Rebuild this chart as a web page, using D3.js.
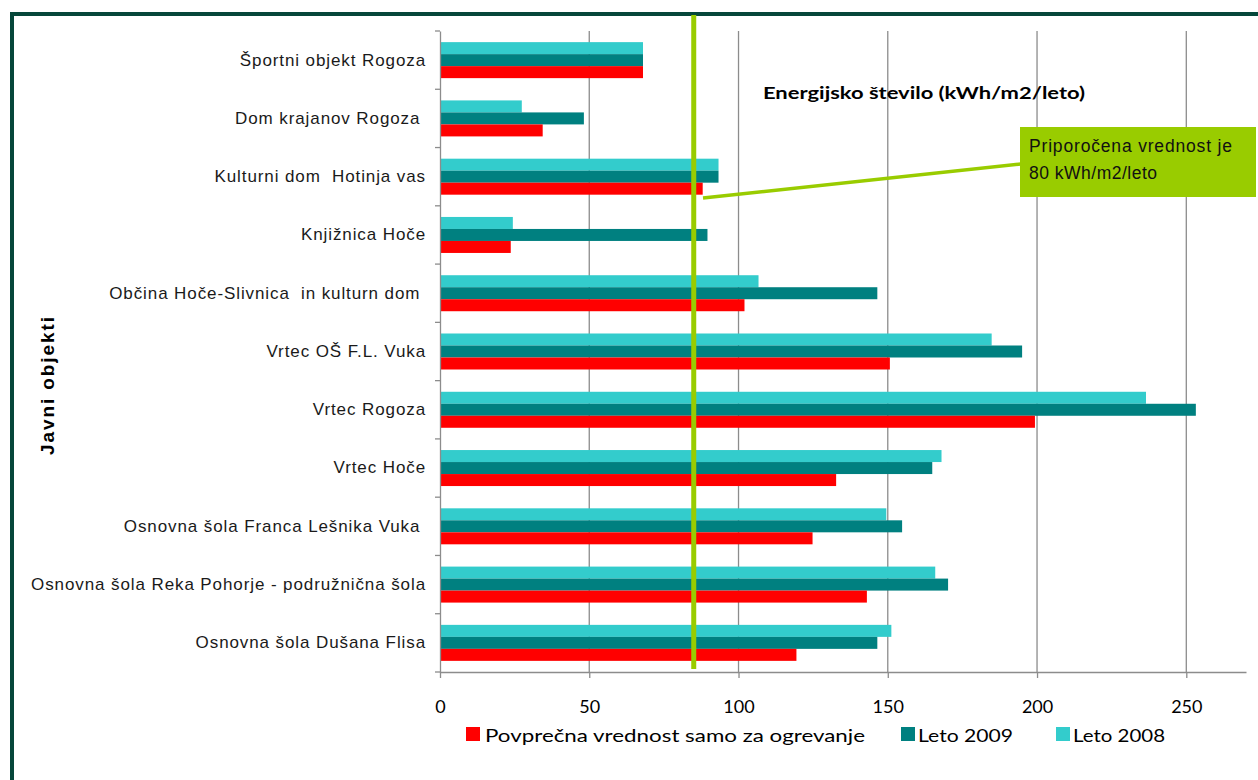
<!DOCTYPE html>
<html><head><meta charset="utf-8">
<script src="https://cdn.jsdelivr.net/npm/d3@7"></script>
<style>body{margin:0;background:#fff}svg{display:block}</style>
</head><body>
<svg id="c" width="1258" height="780"></svg>
<script>
const categories = ["Športni objekt Rogoza","Dom krajanov Rogoza ","Kulturni dom  Hotinja vas","Knjižnica Hoče","Občina Hoče-Slivnica  in kulturn dom ","Vrtec OŠ F.L. Vuka","Vrtec Rogoza","Vrtec Hoče","Osnovna šola Franca Lešnika Vuka ","Osnovna šola Reka Pohorje - podružnična šola","Osnovna šola Dušana Flisa"];
const leto2008 = [68, 27.4, 93.3, 24.4, 106.7, 184.8, 236.5, 168, 149.5, 165.9, 151.2];
const leto2009 = [68, 48.2, 93.3, 89.6, 146.5, 195, 253.2, 164.9, 154.8, 170.2, 146.5];
const povprecna = [68, 34.4, 88, 23.7, 102, 150.7, 199.3, 132.7, 124.8, 143, 119.4];
const xTicks = [0, 50, 100, 150, 200, 250];
const seriesNames = ["Povprečna vrednost samo za ogrevanje", "Leto 2009", "Leto 2008"];
const recommended = 85;
const xMax = 270;

const colors = {p:"#ff0000", y09:"#008080", y08:"#33cccc"};
const svg = d3.select("#c");

// frame
svg.append("rect").attr("x",12).attr("y",14).attr("width",1258).attr("height",800)
  .attr("fill","none").attr("stroke","#06473a").attr("stroke-width",4);

const L=440, R=1246, T=31, B=672;
const x = d3.scaleLinear().domain([0,xMax]).range([L,R]);
const y = d3.scaleBand().domain(categories).range([T,B]);
const series = [
  {key:"y08", vals:leto2008, off:-18, col:colors.y08},
  {key:"y09", vals:leto2009, off:-6, col:colors.y09},
  {key:"p", vals:povprecna, off:6, col:colors.p}
];

// gridlines
svg.append("g").selectAll("line").data(xTicks.filter(d=>d>0)).join("line")
  .attr("x1",d=>x(d)).attr("x2",d=>x(d)).attr("y1",T).attr("y2",B)
  .attr("stroke","#8c8c8c").attr("stroke-width",1.3);

// bars
series.forEach(s=>{
  svg.append("g").selectAll("rect").data(categories).join("rect")
    .attr("x",x(0)).attr("y",(d)=>y(d)+y.bandwidth()/2+s.off)
    .attr("width",(d,i)=>x(s.vals[i])-x(0)).attr("height",12)
    .attr("fill",s.col);
});

// x axis
const xa = svg.append("g").attr("transform",`translate(0,${B})`)
  .call(d3.axisBottom(x).tickValues(xTicks).tickSize(6).tickPadding(22).tickSizeOuter(0));
xa.select(".domain").attr("stroke","#8c8c8c").attr("stroke-width",1.3);
xa.selectAll(".tick line").attr("stroke","#8c8c8c").attr("stroke-width",1.3);
xa.selectAll("text").attr("font-family","Lato, 'Open Sans', sans-serif").attr("font-size",18).attr("fill","#000");

// y axis
const ya = svg.append("g").attr("transform",`translate(${L},0)`)
  .call(d3.axisLeft(y).tickSize(0).tickPadding(14));
ya.select(".domain").attr("stroke","#8c8c8c").attr("stroke-width",1.3);
ya.selectAll("text").attr("font-family","'Liberation Sans', Arial, sans-serif").attr("font-size",17)
  .attr("letter-spacing",0.9).attr("fill","#1a1a1a").style("white-space","pre");
// category boundary ticks
svg.append("g").selectAll("line").data(d3.range(categories.length+1)).join("line")
  .attr("x1",L-5).attr("x2",L).attr("y1",i=>T+i*y.step()).attr("y2",i=>T+i*y.step())
  .attr("stroke","#8c8c8c").attr("stroke-width",1.3);

// recommended line
svg.append("line").attr("x1",x(recommended)).attr("x2",x(recommended)).attr("y1",15).attr("y2",669)
  .attr("stroke","#99cc00").attr("stroke-width",5);
// connector
svg.append("line").attr("x1",703).attr("y1",198).attr("x2",1021).attr("y2",164)
  .attr("stroke","#99cc00").attr("stroke-width",3.5);
// callout box
svg.append("rect").attr("x",1020).attr("y",127).attr("width",236).attr("height",70).attr("fill","#99cc00");
svg.append("text").attr("x",1029).attr("y",152).text("Priporočena vrednost je")
  .attr("font-family","'Liberation Sans', Arial, sans-serif").attr("font-size",17.5).attr("fill","#111")
  .attr("textLength",203).attr("lengthAdjust","spacing");
svg.append("text").attr("x",1029).attr("y",179).text("80 kWh/m2/leto")
  .attr("font-family","'Liberation Sans', Arial, sans-serif").attr("font-size",17.5).attr("fill","#111")
  .attr("textLength",128).attr("lengthAdjust","spacing");

// title
svg.append("text").attr("x",763).attr("y",99).text("Energijsko število (kWh/m2/leto)")
  .attr("font-family","Lato, 'Open Sans', sans-serif").attr("font-weight","bold").attr("font-size",17)
  .attr("textLength",322).attr("lengthAdjust","spacingAndGlyphs").attr("fill","#000");

// y axis title
svg.append("text").attr("transform","translate(54,386) rotate(-90)").attr("text-anchor","middle")
  .text("Javni objekti").attr("font-family","'Liberation Sans', Arial, sans-serif")
  .attr("font-weight","bold").attr("font-size",19).attr("fill","#000")
  .attr("textLength",138).attr("lengthAdjust","spacing");

// legend
const legend = [
  {name:seriesNames[0], col:colors.p, sx:466, tx:485, tl:380},
  {name:seriesNames[1], col:colors.y09, sx:901, tx:918, tl:95},
  {name:seriesNames[2], col:colors.y08, sx:1056, tx:1073, tl:92}
];
const lg = svg.append("g");
legend.forEach(l=>{
  lg.append("rect").attr("x",l.sx).attr("y",727).attr("width",14).attr("height",14).attr("fill",l.col);
  lg.append("text").attr("x",l.tx).attr("y",742).text(l.name)
    .attr("font-family","Lato, 'Open Sans', sans-serif").attr("font-size",18).attr("fill","#000")
    .attr("textLength",l.tl).attr("lengthAdjust","spacingAndGlyphs");
});
</script>
</body></html>
